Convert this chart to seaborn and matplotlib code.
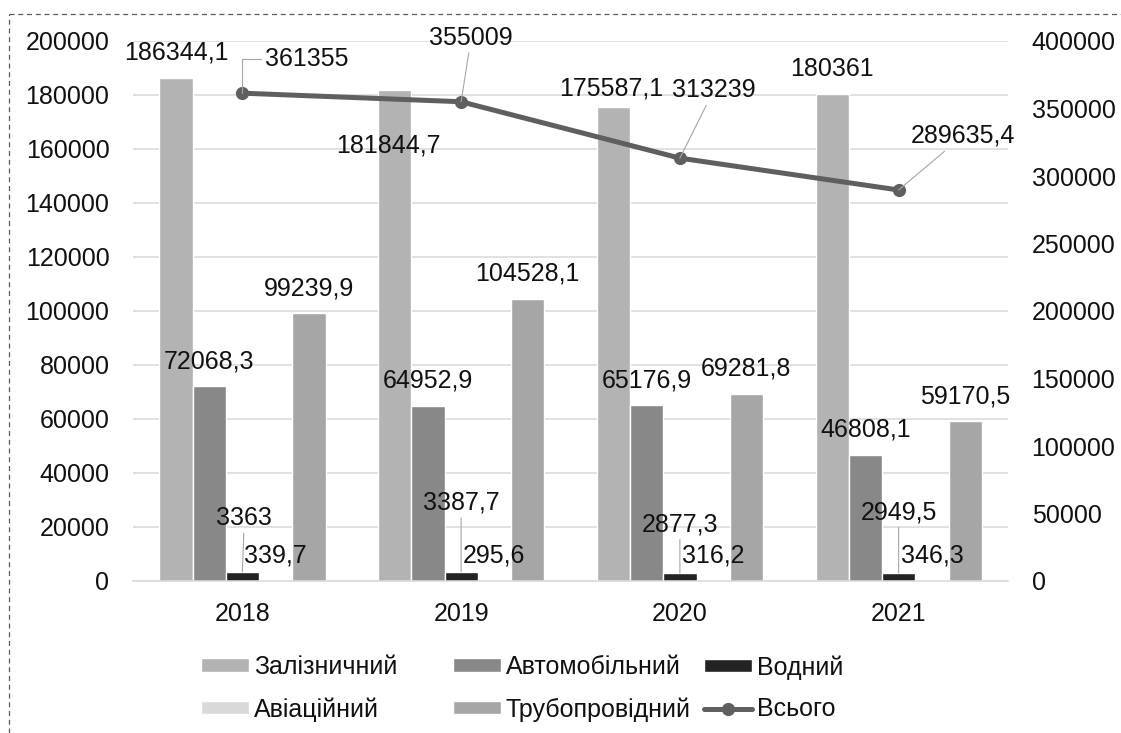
import numpy as np
import pandas as pd
import matplotlib
matplotlib.use("Agg")
import matplotlib.pyplot as plt
from matplotlib import font_manager
from matplotlib.lines import Line2D
import seaborn as sns

# --- data -------------------------------------------------------------
years = ["2018", "2019", "2020", "2021"]
modes = ["Залізничний", "Автомобільний", "Водний", "Авіаційний", "Трубопровідний"]
rail = [186344.1, 181844.7, 175587.1, 180361.0]
road = [72068.3, 64952.9, 65176.9, 46808.1]
water = [3363.0, 3387.7, 2877.3, 2949.5]
air = [339.7, 295.6, 316.2, 346.3]
pipe = [99239.9, 104528.1, 69281.8, 59170.5]
total = [361355.0, 355009.0, 313239.0, 289635.4]
total_name = "Всього"

series = dict(zip(modes, [rail, road, water, air, pipe]))
df = pd.DataFrame(
    [(y, m, v) for m in modes for y, v in zip(years, series[m])],
    columns=["year", "mode", "value"],
)

# --- style ------------------------------------------------------------
palette = {
    "Залізничний": "#b3b3b3",
    "Автомобільний": "#888888",
    "Водний": "#232323",
    "Авіаційний": "#d9d9d9",
    "Трубопровідний": "#a6a6a6",
}
line_color = "#5f5f5f"
grid_color = "#d9d9d9"
leader_color = "#a6a6a6"
text_color = "#111111"

sns.set_theme(style="white")
names = {f.name for f in font_manager.fontManager.ttflist}
main_font = "Liberation Sans" if "Liberation Sans" in names else "DejaVu Sans"
plt.rcParams["font.family"] = [main_font, "DejaVu Sans"]
FS = 18

W, H, DPI = 1121, 733, 100
fig = plt.figure(figsize=(W / DPI, H / DPI), dpi=DPI)
ax = fig.add_axes([133 / W, 1 - 581 / H, (1008 - 133) / W, (581 - 41) / H])

sns.barplot(data=df, x="year", y="value", hue="mode", hue_order=modes,
            order=years, palette=palette, width=0.76, saturation=1,
            ax=ax, legend=True)
bar_handles, bar_labels = ax.get_legend_handles_labels()
ax.get_legend().remove()

ax.set_ylim(0, 200000)
ax.set_yticks(np.arange(0, 200001, 20000))
ax.set_xlim(-0.5, len(years) - 0.5)
ax.set_xlabel("")
ax.set_ylabel("")
ax.yaxis.grid(True, color=grid_color, lw=1.1)
ax.set_axisbelow(True)
for s in ["top", "left", "right"]:
    ax.spines[s].set_visible(False)
ax.spines["bottom"].set_color(grid_color)
ax.spines["bottom"].set_linewidth(1.1)
ax.tick_params(axis="y", length=0, pad=17, labelsize=FS, labelcolor=text_color)
ax.tick_params(axis="x", length=0, pad=15, labelsize=FS, labelcolor=text_color)

# secondary axis with the total line
ax2 = ax.twinx()
xpos = np.arange(len(years))
sns.lineplot(x=xpos, y=total, ax=ax2, color=line_color, lw=3.6,
             marker="o", markersize=9.5, markeredgewidth=0,
             label=total_name, legend=False)
ax2.set_ylim(0, 400000)
ax2.set_yticks(np.arange(0, 400001, 50000))
ax2.set_ylabel("")
for s in ax2.spines.values():
    s.set_visible(False)
ax2.tick_params(axis="y", length=0, pad=17, labelsize=FS, labelcolor=text_color)
ax2.grid(False)
ax.set_xticks(xpos)
ax.set_xticklabels(years)


def fmt(v):
    s = f"{v:.1f}".rstrip("0").rstrip(".")
    return s.replace(".", ",")


# label offsets (pixels from the top of each mark)
default_off = (0, 25)
bar_offsets = {
    ("Залізничний", 1): (-6, -55),
    ("Залізничний", 2): (-2, 18),
    ("Водний", 0): (2, 54),
    ("Водний", 1): (0, 69),
    ("Водний", 2): (0, 49),
    ("Водний", 3): (0, 61),
}
leader_modes = {"Водний"}

for mode, cont in zip(modes, ax.containers):
    for i, patch in enumerate(cont.patches):
        xc = patch.get_x() + patch.get_width() / 2
        val = patch.get_height()
        off = bar_offsets.get((mode, i), default_off)
        kw = {}
        if mode in leader_modes:
            kw["arrowprops"] = dict(arrowstyle="-", color=leader_color, lw=0.8,
                                    shrinkA=0, shrinkB=0)
        ax.annotate(fmt(val), xy=(xc, val), xytext=off, textcoords="offset pixels",
                    ha="center", va="center", fontsize=FS, color=text_color,
                    annotation_clip=False, **kw)

line_offsets = [(64, 34), (10, 64), (34, 68), (64, 54)]
for i, (x, v) in enumerate(zip(xpos, total)):
    ap = dict(arrowstyle="-", color=leader_color, lw=0.8, shrinkA=0, shrinkB=0)
    if i == 0:
        ap.update(connectionstyle="angle,angleA=0,angleB=90,rad=0", relpos=(0, 0.5))
    ax2.annotate(fmt(v), xy=(x, v), xytext=line_offsets[i], textcoords="offset pixels",
                 ha="center", va="center", fontsize=FS, color=text_color,
                 arrowprops=ap, annotation_clip=False)

# legend: three equal-width columns, two rows
line_handle = Line2D([], [], color=line_color, lw=3.6, marker="o", markersize=9.5,
                     markeredgewidth=0)
h = dict(zip(bar_labels, bar_handles))
columns = [
    [(h["Залізничний"], "Залізничний"), (h["Авіаційний"], "Авіаційний")],
    [(h["Автомобільний"], "Автомобільний"), (h["Трубопровідний"], "Трубопровідний")],
    [(h["Водний"], "Водний"), (line_handle, total_name)],
]
col_x = [201, 453, 704]
for cx, col in zip(col_x, columns):
    leg = fig.legend([c[0] for c in col], [c[1] for c in col],
                     loc="upper left", bbox_to_anchor=(cx / W, 1 - 655 / H),
                     frameon=False, borderpad=0, borderaxespad=0,
                     handlelength=1.92, handleheight=0.44, handletextpad=0.2,
                     labelspacing=0.72,
                     prop=dict(family=main_font, size=FS))
    for t in leg.get_texts():
        t.set_color(text_color)

# dashed frame around the chart area
fig.add_artist(Line2D([9 / W, 1.0], [1 - 14 / H, 1 - 14 / H], transform=fig.transFigure,
                      color="#595959", lw=0.9, ls=(0, (4, 3))))
fig.add_artist(Line2D([9 / W, 9 / W], [0.0, 1 - 14 / H], transform=fig.transFigure,
                      color="#595959", lw=0.9, ls=(0, (4, 3))))

fig.savefig("out.png", dpi=DPI, facecolor="white")
